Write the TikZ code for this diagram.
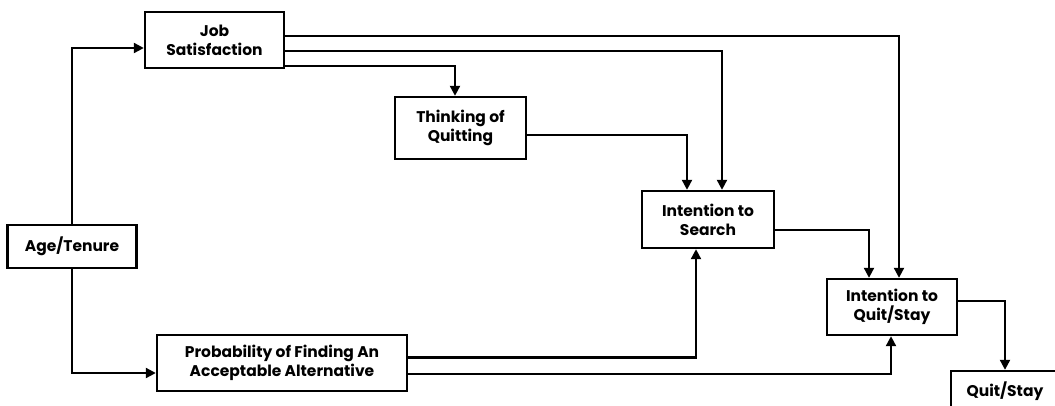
\documentclass[tikz,border=0pt]{standalone}
\usepackage{fontspec}
\setmainfont{Poppins}
\usepackage{tikz}
\usetikzlibrary{shapes.geometric, arrows, arrows.meta}
\tikzstyle{boks} = [rectangle, draw=black, line width=2.4pt, inner sep=0pt, align=center, minimum height=56pt, font=\fontsize{15.5}{19}\selectfont\bfseries]
\tikzstyle{arrow} = [line width=2.2pt, -{Triangle[length=10pt,width=10pt]}]

\begin{document}
\begin{tikzpicture}[x=1pt, y=-1pt]
		\clip (0,0) rectangle (1055,405);

	    \node (job) [boks, minimum width=139pt] at (214.5,40) {Job\\Satisfaction};
		\node (think) [boks, minimum width=131pt, minimum height=62pt] at (460.5,128) {Thinking of\\Quitting};
		\node (search) [boks, minimum width=132pt, minimum height=57pt] at (708,219.5) {Intention to\\Search};
		\node (intent) [boks, minimum width=130pt] at (892,307) {Intention to\\Quit/Stay};
		\node (age) [boks, minimum width=129pt, minimum height=43pt] at (72,246.5) {Age/Tenure};
		\node (prob) [boks, minimum width=250pt] at (282,363) {Probability of Finding An\\Acceptable Alternative};
		\node (quit) [boks, minimum width=108pt, minimum height=40pt] at (1005,391) {Quit/Stay};

        \draw [arrow] (age.north) |- ([yshift=-8pt]job.west);
        \draw [arrow] (age.south) |- ([yshift=-10pt]prob.west);
        \draw [arrow] ([yshift=4pt]job.east) -| ([xshift=7pt]intent.north);
        \draw [arrow] ([yshift=-11pt]job.east) -| ([xshift=14pt]search.north);
        \draw [arrow] ([yshift=-26pt]job.east) -| ([xshift=-5.5pt]think.north);
        \draw [arrow] ([yshift=-7pt]think.east) -| ([xshift=-21pt]search.north);
        \draw [arrow] ([yshift=-10.5pt]search.east) -| ([xshift=-23pt]intent.north);
        \draw [arrow] ([yshift=6pt]intent.east) -| (quit.north);
        \draw [arrow] ([yshift=5.5pt]prob.east) -| ([xshift=-12pt]search.south);
        \draw [arrow] ([yshift=-11pt]prob.east) -| ([xshift=-1pt]intent.south);
		\end{tikzpicture}
\end{document}
